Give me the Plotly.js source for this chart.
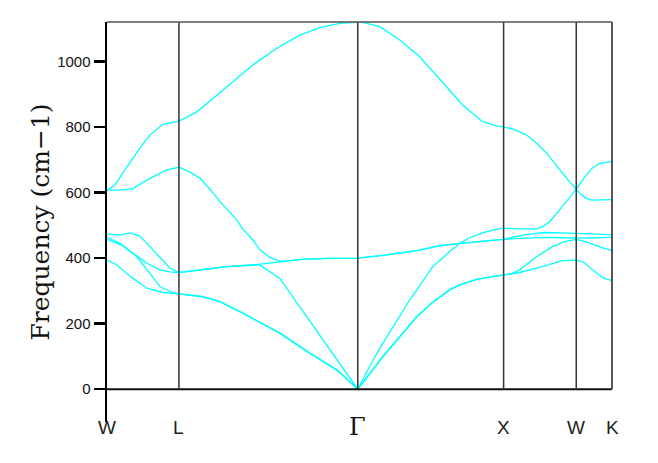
<!DOCTYPE html>
<html>
<head>
<meta charset="utf-8">
<script src="https://cdn.plot.ly/plotly-3.0.1.min.js"></script>
<style>html,body{margin:0;padding:0;background:#fff;}</style>
</head>
<body>
<div id="chart" style="width:658px;height:463px;"></div>
<script>
// High-symmetry points along the path (path coordinate) and their labels
const kTicks = [0, 72, 251, 397, 469.7, 505.5];
const tickLabels = ['W', 'L', 'Γ', 'X', 'W', 'K'];
const yTicks = [0, 200, 400, 600, 800, 1000];

// Phonon branches (path coordinate, frequency in cm-1), sorted by band index
const band1K = [0,10,26,40,56,72, 96,113,136,153,173,203,230,251, 276,293,310,326,343,353,370,383,397, 413,436,456,469.7, 477,486,496,505.5];
const band1F = [394,379,338,308,295,291, 282,267,232,205,171,110,59,0, 99,160,221,265,303,318,335,342,348, 356,374,392,394, 388,364,340,331];

const band2K = [0,16,30,40,53,63,72, 96,113,136,153,173,203,230,251, 276,293,310,326,343,353,370,383,397, 405,413,430,446,458,469.7, 479,488,497,505.5];
const band2F = [457,437,404,364,313,298,291, 282,267,232,205,171,110,59,0, 99,160,221,265,303,318,335,342,348, 352,364,404,435,450,457, 450,440,430,423];

const band3K = [0,13,26,40,53,63,72, 96,120,153,173,193,213,233,251, 263,276,303,326,336,343,353,363,376,387,397, 408,421,438,455,469.7, 479,488,497,505.5];
const band3F = [463,445,415,384,364,358,356, 366,374,379,338,251,165,78,0, 70,140,272,374,400,420,445,448,453,455,457, 459,461,463,462,460, 461,462,463,463];

const band4K = [0,13,23,33,43,55,63,72, 96,120,151,173,196,221,251, 276,293,313,333,353,363,376,387,397, 408,421,438,455,469.7, 479,488,497,505.5];
const band4F = [473,470,477,467,435,394,369,356, 366,374,381,388,396,399,400, 408,415,424,438,445,448,453,455,457, 465,472,478,477,476, 475,473,472,471];

const band5K = [0,13,26,43,60,72, 83,93,103,113,123,130,136,146,153,163,173,196,221,251, 276,293,313,333,353,363,376,387,397, 413,430,436,443,453,461,469.7, 474,479,485,493,505.5];
const band5F = [607,607,612,643,669,677, 662,644,610,572,540,516,488,455,425,402,390,396,399,400, 408,415,424,438,445,462,477,486,491, 489,489,496,510,547,578,610, 595,583,577,577,578];

const band6K = [0,8,17,26,34,43,56,72, 90,106,126,146,170,193,213,233,251, 256,273,293,313,340,356,376,390,397, 408,420,430,440,453,461,469.7, 479.7,486,493,505.5];
const band6F = [607,623,665,704,740,775,808,818, 846,887,938,989,1040,1080,1103,1116,1120, 1119,1106,1065,1014,923,867,816,803,800, 792,775,750,720,669,640,610, 653,675,689,694];

const bands = [[band1K, band1F], [band2K, band2F], [band3K, band3F], [band4K, band4F], [band5K, band5F], [band6K, band6F]];

const traces = bands.map(b => ({
  x: b[0], y: b[1], type: 'scatter', mode: 'lines',
  line: {color: '#00ffff', width: 1.3},
  hoverinfo: 'skip', showlegend: false
}));

const yTop = 1120;
const shapes = [];
// zero line
shapes.push({type: 'line', xref: 'paper', yref: 'y', x0: 0, x1: 1, y0: 0, y1: 0, line: {color: '#111', width: 2}});
// interior symmetry lines
for (let i = 1; i < kTicks.length - 1; i++) {
  shapes.push({type: 'line', xref: 'x', yref: 'y', x0: kTicks[i], x1: kTicks[i], y0: 0, y1: yTop, line: {color: '#333', width: 1.5}});
}
// right border (at last symmetry point) and top border
shapes.push({type: 'line', xref: 'paper', yref: 'y', x0: 1, x1: 1, y0: 0, y1: yTop, line: {color: '#555', width: 2}});
shapes.push({type: 'line', xref: 'paper', yref: 'paper', x0: 0, x1: 1, y0: 1, y1: 1, line: {color: '#555', width: 1.6}});

const annotations = kTicks.map((k, i) => ({
  x: k, xref: 'x', y: -0.0125, yref: 'paper', yanchor: 'middle', xanchor: 'center',
  text: tickLabels[i], showarrow: false,
  font: tickLabels[i] === 'Γ'
    ? {family: 'DejaVu Serif', size: 24, color: '#111'}
    : {family: 'Liberation Sans, Arial, sans-serif', size: 19, color: '#222'}
}));

const layout = {
  width: 658, height: 463,
  margin: {l: 107, r: 45.5, t: 22, b: 41, pad: 0},
  paper_bgcolor: '#fff', plot_bgcolor: '#fff',
  showlegend: false,
  xaxis: {range: [kTicks[0], kTicks[kTicks.length - 1]], showgrid: false, zeroline: false, showline: false,
          showticklabels: false, ticks: '', fixedrange: true},
  yaxis: {range: [-100, yTop], tickvals: yTicks, ticktext: yTicks.map(String),
          ticks: 'outside', ticklen: 11, tickwidth: 2.5, tickcolor: '#000',
          showline: true, linewidth: 2.5, linecolor: '#000',
          showgrid: false, zeroline: false, automargin: false,
          tickfont: {family: 'Liberation Sans, Arial, sans-serif', size: 15, color: '#111'},
          title: {text: 'Frequency (cm−1)', standoff: 1,
                  font: {family: 'DejaVu Serif', size: 25, color: '#111'}}},
  shapes: shapes,
  annotations: annotations
};

Plotly.newPlot('chart', traces, layout, {displayModeBar: false, staticPlot: true});
</script>
</body>
</html>
